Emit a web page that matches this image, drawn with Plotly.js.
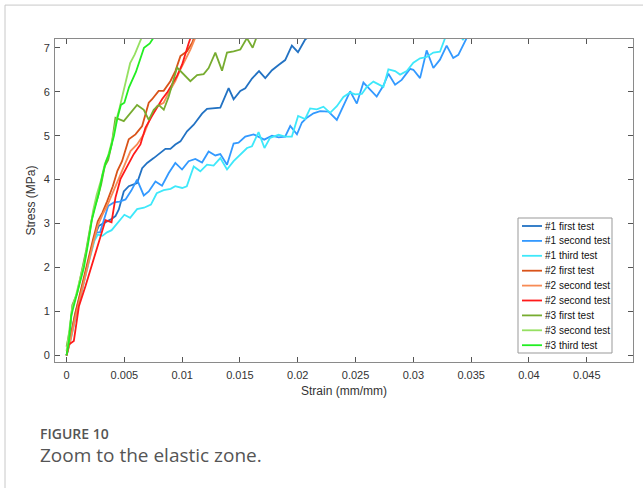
<!DOCTYPE html>
<html>
<head>
<meta charset="utf-8">
<script src="https://cdn.plot.ly/plotly-3.0.1.min.js"></script>
<style>
html,body{margin:0;padding:0;background:#fff;}
#chart{width:643px;height:488px;}
</style>
</head>
<body>
<div id="chart"></div>
<script>
// ---- data (strain mm/mm, stress MPa) ----
const seriesNames = ["#1 first test","#1 second test","#1 third test","#2 first test","#2 second test","#2 second test","#3 first test","#3 second test","#3 third test"];
const seriesColors = ["#2272c3","#3399ff","#3ee8fa","#d95319","#f78b55","#ff1a1a","#77ac30","#96e062","#22ee22"];

const t1aX = [0,0.0004,0.0008,0.0012,0.0016,0.0020,0.0024,0.0028,0.0031,0.0035,0.0038,0.00423,0.00452,0.00495,0.00538,0.00581,0.0061,0.00654,0.00697,0.00754,0.00812,0.00855,0.00898,0.00941,0.00985,0.01042,0.0110,0.01172,0.01215,0.0133,0.01402,0.01445,0.01503,0.01546,0.01604,0.01665,0.01719,0.01777,0.01834,0.01891,0.01949,0.02002,0.02064,0.0215];
const t1aY = [0,0.5,1.0,1.4,1.85,2.3,2.7,2.95,3.0,3.05,3.09,3.17,3.32,3.73,3.85,3.89,3.92,4.26,4.38,4.49,4.61,4.70,4.70,4.80,4.87,5.10,5.25,5.50,5.61,5.64,6.08,5.83,6.02,6.08,6.30,6.47,6.31,6.49,6.61,6.72,7.05,6.90,7.19,7.35];

const t1bX = [0,0.0004,0.0008,0.0012,0.0016,0.0020,0.0024,0.0026,0.0029,0.0032,0.0036,0.0041,0.0046,0.0051,0.0056,0.0061,0.00668,0.00711,0.00769,0.00826,0.00884,0.00941,0.00999,0.01056,0.01114,0.01172,0.01229,0.01287,0.0133,0.01388,0.01445,0.01488,0.01546,0.01618,0.01665,0.01710,0.01777,0.01834,0.01891,0.01935,0.01993,0.02036,0.02079,0.02136,0.02194,0.02266,0.02338,0.02395,0.02453,0.02511,0.02568,0.02626,0.02683,0.02741,0.02784,0.02842,0.02899,0.02971,0.0300,0.03058,0.03115,0.03173,0.0323,0.03288,0.03345,0.03389,0.03461];
const t1bY = [0,0.45,0.95,1.4,1.8,2.25,2.65,2.8,2.8,3.05,3.4,3.48,3.5,3.55,3.75,4.0,3.64,3.73,3.96,3.86,4.15,4.38,4.23,4.42,4.47,4.39,4.64,4.55,4.58,4.34,4.82,4.84,4.98,5.03,4.97,4.91,5.0,4.96,4.98,5.22,5.03,5.30,5.41,5.51,5.56,5.55,5.36,5.70,6.01,5.73,6.21,6.05,5.89,6.14,6.41,6.16,6.27,6.52,6.50,6.31,6.94,6.54,6.73,7.05,6.77,6.84,7.22];

const t1cX = [0,0.0004,0.0008,0.0012,0.0016,0.0020,0.0024,0.0027,0.0031,0.0035,0.0039,0.0044,0.0050,0.0055,0.0061,0.0067,0.0073,0.0078,0.0084,0.0090,0.0094,0.0100,0.0104,0.0110,0.01157,0.01215,0.01272,0.0133,0.01388,0.01445,0.01503,0.01561,0.01604,0.01661,0.01712,0.01760,0.01834,0.01891,0.01949,0.02003,0.02064,0.02107,0.02165,0.02222,0.0228,0.02338,0.02395,0.02453,0.02496,0.02554,0.02597,0.02654,0.02712,0.02741,0.02784,0.02842,0.02885,0.02943,0.0300,0.03058,0.03115,0.03173,0.0323,0.03273,0.0336,0.0343,0.0348];
const t1cY = [0,0.4,0.9,1.35,1.75,2.2,2.6,2.75,2.72,2.8,2.85,3.0,3.2,3.13,3.33,3.36,3.43,3.69,3.76,3.79,3.85,3.81,3.85,4.3,4.19,4.34,4.32,4.49,4.23,4.42,4.57,4.72,4.76,5.08,4.72,4.95,5.02,4.98,4.98,5.45,5.38,5.62,5.60,5.66,5.52,5.67,5.88,5.98,5.94,5.95,6.11,6.23,6.15,6.11,6.51,6.47,6.39,6.47,6.66,6.76,6.79,6.89,6.91,7.21,7.45,7.18,7.5];

const t2aX = [0,0.0003,0.0007,0.0011,0.0015,0.0019,0.0023,0.0027,0.0031,0.0035,0.0040,0.0044,0.0048,0.00538,0.00596,0.00654,0.00711,0.0074,0.00797,0.0084,0.00898,0.00941,0.00985,0.01042,0.01086,0.0112];
const t2aY = [0,0.35,0.9,1.35,1.75,2.2,2.65,3.05,3.25,3.5,3.85,4.2,4.42,4.92,5.03,5.22,5.75,5.83,6.02,6.02,6.24,6.47,6.81,6.92,7.11,7.35];

const t2bX = [0,0.0003,0.0007,0.0011,0.0015,0.0019,0.0023,0.0027,0.0031,0.0035,0.0040,0.0045,0.0051,0.00553,0.0061,0.00668,0.00725,0.00783,0.0084,0.00884,0.00941,0.00985,0.01028,0.01071,0.01114,0.0114];
const t2bY = [0,0.3,0.8,1.25,1.7,2.15,2.55,2.95,3.2,3.4,3.7,4.0,4.35,4.65,4.8,5.03,5.41,5.67,5.75,5.98,6.24,6.51,6.73,6.96,7.23,7.35];

const t2cX = [0,0.0002,0.00063,0.00107,0.00164,0.00222,0.00279,0.00337,0.00389,0.00423,0.00466,0.00524,0.00581,0.00639,0.00682,0.0074,0.00783,0.00826,0.0087,0.00913,0.00956,0.0100,0.01028,0.01057,0.0109];
const t2cY = [0,0.25,0.33,1.12,1.58,2.07,2.56,3.08,3.03,3.59,4.01,4.31,4.58,4.80,5.18,5.45,5.64,5.83,5.98,6.17,6.36,6.62,6.89,7.11,7.35];

const t3aX = [0,0.0003,0.0005,0.0009,0.0013,0.0017,0.0021,0.0024,0.0027,0.0030,0.0033,0.0036,0.0039,0.00423,0.00495,0.0061,0.00668,0.00711,0.00754,0.00797,0.00841,0.00884,0.00956,0.00999,0.01071,0.01129,0.01186,0.01229,0.01287,0.01345,0.01388,0.01445,0.01503,0.0156,0.01610,0.01652];
const t3aY = [0.2,0.6,1.15,1.4,1.9,2.4,3.0,3.35,3.6,3.9,4.3,4.45,4.8,5.41,5.33,5.70,5.59,5.36,5.59,5.70,5.59,5.89,6.55,6.43,6.24,6.38,6.40,6.54,6.89,6.48,6.89,6.92,6.96,7.22,7.0,7.3];

const t3bX = [0,0.0002,0.0005,0.0008,0.0012,0.0016,0.0020,0.0023,0.0026,0.0030,0.0033,0.0036,0.0040,0.0043,0.0046,0.0049,0.0052,0.0055,0.0059,0.0062,0.0066];
const t3bY = [0.1,0.5,1.1,1.35,1.8,2.2,2.8,3.3,3.65,4.0,4.35,4.55,4.95,5.35,5.65,6.0,6.3,6.65,6.85,7.05,7.3];

const t3cX = [0,0.0002,0.0004,0.0007,0.0011,0.0015,0.0019,0.0022,0.0025,0.0028,0.0031,0.0034,0.0037,0.0041,0.0044,0.0047,0.0050,0.0054,0.0060,0.0064,0.0067,0.0072,0.0077];
const t3cY = [0,0.3,0.9,1.2,1.6,2.0,2.6,3.1,3.4,3.7,4.1,4.4,4.6,5.0,5.4,5.7,5.75,6.1,6.45,6.75,7.0,7.1,7.3];

const xTickVals = [0,0.005,0.01,0.015,0.02,0.025,0.03,0.035,0.04,0.045];
const xTickText = ["0","0.005","0.01","0.015","0.02","0.025","0.03","0.035","0.04","0.045"];
const yTickVals = [0,1,2,3,4,5,6,7];

const xs = [t1aX,t1bX,t1cX,t2aX,t2bX,t2cX,t3aX,t3bX,t3cX];
const ys = [t1aY,t1bY,t1cY,t2aY,t2bY,t2cY,t3aY,t3bY,t3cY];

const traces = seriesNames.map((n,i)=>({
  x: xs[i], y: ys[i], name: n, type: 'scatter', mode: 'lines',
  line: {color: seriesColors[i], width: 1.8}, showlegend: false
}));

const FONT = 'Liberation Sans, Arial, sans-serif';
const axisCommon = {
  showgrid: false, zeroline: false, showline: true, mirror: 'ticks',
  linecolor: '#8a8a8a', linewidth: 1, ticks: 'inside', ticklen: 5,
  tickcolor: '#555', tickfont: {family: FONT, size: 11, color: '#333'}
};

// compact legend box (paper coordinates), entries built from the series arrays
const pxX = p => (p - 55) / 578;
const pxY = p => (362 - p) / 323;
const shapes = [
  {type: 'line', xref: 'paper', yref: 'paper', x0: -0.0865, x1: -0.0865, y0: 1.105, y1: -0.4, line: {color: '#c8c8c8', width: 1}},
  {type: 'line', xref: 'paper', yref: 'paper', x0: -0.0865, x1: 1.02, y0: 1.105, y1: 1.105, line: {color: '#c8c8c8', width: 1}},
  {type: 'rect', xref: 'paper', yref: 'paper', x0: pxX(518), x1: pxX(612), y0: pxY(353), y1: pxY(218),
   fillcolor: '#fff', line: {color: '#999', width: 1}, layer: 'above'}
];
const annotations = [
  {text: 'FIGURE 10', xref: 'paper', yref: 'paper', x: pxX(38), y: pxY(433), xanchor: 'left', yanchor: 'middle', showarrow: false,
   font: {family: 'Open Sans, sans-serif', size: 14, weight: 600, color: '#555'}},
  {text: 'Zoom to the elastic zone.', xref: 'paper', yref: 'paper', x: pxX(38), y: pxY(455), xanchor: 'left', yanchor: 'middle', showarrow: false,
   font: {family: 'Open Sans, sans-serif', size: 19, color: '#555'}}
];
seriesNames.forEach((n,i)=>{
  const py = 226 + 14.9*i;
  shapes.push({type: 'line', xref: 'paper', yref: 'paper', x0: pxX(522), x1: pxX(542), y0: pxY(py), y1: pxY(py),
    line: {color: seriesColors[i], width: 1.8}, layer: 'above'});
  annotations.push({text: n, xref: 'paper', yref: 'paper', x: pxX(542.5), y: pxY(py), xanchor: 'left', yanchor: 'middle',
    showarrow: false, font: {family: FONT, size: 10, color: '#111'}});
});

const layout = {
  width: 643, height: 488,
  margin: {l: 55, r: 10, t: 39, b: 126},
  paper_bgcolor: '#fff', plot_bgcolor: '#fff',
  showlegend: false,
  xaxis: Object.assign({}, axisCommon, {
    range: [-0.001, 0.049], tickvals: xTickVals, ticktext: xTickText, ticklabelstandoff: 3,
    title: {text: 'Strain (mm/mm)', font: {family: FONT, size: 12, color: '#333'}, standoff: 6}
  }),
  yaxis: Object.assign({}, axisCommon, {
    range: [-0.15, 7.2], tickvals: yTickVals, ticklabelstandoff: 2,
    title: {text: 'Stress (MPa)', font: {family: FONT, size: 12, color: '#333'}, standoff: 5}
  }),
  shapes: shapes,
  annotations: annotations
};

Plotly.newPlot('chart', traces, layout, {displayModeBar: false, staticPlot: true});
</script>
</body>
</html>
